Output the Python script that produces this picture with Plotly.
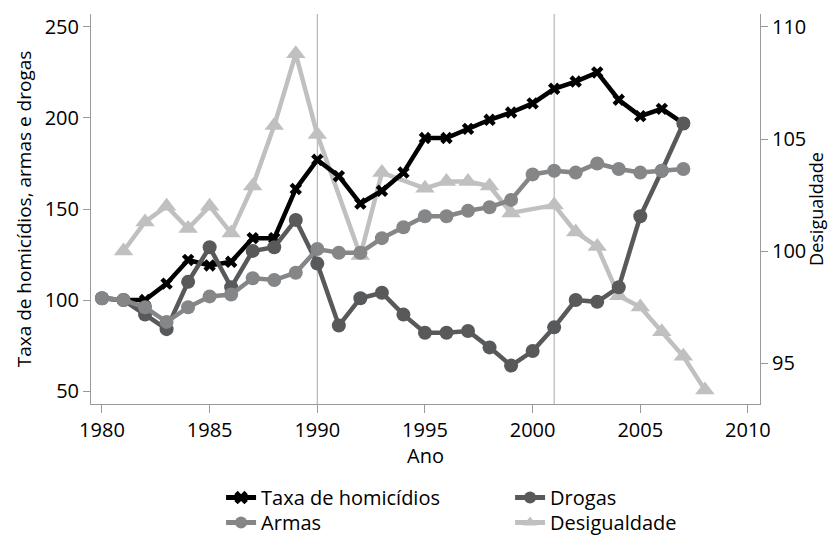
import plotly.graph_objects as go

years = list(range(1980, 2008))
taxa = [101, 100, 100, 109, 122, 119, 121, 134, 134, 161, 177, 168, 153, 160, 170,
        189, 189, 194, 199, 203, 208, 216, 220, 225, 210, 201, 205, 197]
drogas = [101, 100, 92, 84, 110, 129, 107, 127, 129, 144, 120, 86, 101, 104, 92,
          82, 82, 83, 74, 64, 72, 85, 100, 99, 107, 146, 171, 197]
armas = [101, 100, 96, 88, 96, 102, 103, 112, 111, 115, 128, 126, 126, 134, 140,
         146, 146, 149, 151, 155, 169, 171, 170, 175, 172, 170, 171, 172]
desig_years = [1981, 1982, 1983, 1984, 1985, 1986, 1987, 1988, 1989, 1990, 1992, 1993,
               1995, 1996, 1997, 1998, 1999, 2001, 2002, 2003, 2004, 2005, 2006, 2007, 2008]
desig = [100.0, 101.3, 102.0, 101.0, 102.0, 100.8, 102.9, 105.6, 108.8, 105.2, 99.8, 103.5,
         102.8, 103.1, 103.1, 102.9, 101.7, 102.05, 100.85, 100.2, 98.0, 97.5, 96.4, 95.3, 93.8]

x_ticks = [1980, 1985, 1990, 1995, 2000, 2005, 2010]
left_ticks = [50, 100, 150, 200, 250]
right_ticks = [95, 100, 105, 110]
vlines = [1990, 2001]

FONT = "Open Sans"
FS = 20
AX = "#9a9a9a"

fig = go.Figure()

fig.add_trace(go.Scatter(
    x=desig_years, y=desig, name="Desigualdade", yaxis="y", mode="lines+markers",
    line=dict(color="#c0c0c0", width=4.5),
    marker=dict(symbol="triangle-up", size=17, color="#c0c0c0"),
    legend="legend2", legendrank=2))
fig.add_trace(go.Scatter(
    x=years, y=taxa, name="Taxa de homicídios", yaxis="y2", mode="lines+markers",
    line=dict(color="#000000", width=4.5),
    marker=dict(symbol="x", size=11, color="#000000"),
    legend="legend", legendrank=1))
fig.add_trace(go.Scatter(
    x=years, y=drogas, name="Drogas", yaxis="y2", mode="lines+markers",
    line=dict(color="#58595b", width=4.5),
    marker=dict(symbol="circle", size=14, color="#58595b"),
    legend="legend", legendrank=2))
fig.add_trace(go.Scatter(
    x=years, y=armas, name="Armas", yaxis="y2", mode="lines+markers",
    line=dict(color="#858688", width=4.5),
    marker=dict(symbol="circle", size=14, color="#858688"),
    legend="legend2", legendrank=1))

for v in vlines:
    fig.add_shape(type="line", xref="x", yref="paper", x0=v, x1=v, y0=0, y1=1,
                  line=dict(color="#a8a8a8", width=1), layer="below")

fig.add_annotation(text="Ano", xref="paper", yref="paper", x=0.5, y=-0.131,
                   xanchor="center", yanchor="middle", showarrow=False,
                   font=dict(family=FONT, size=FS))

leg_common = dict(orientation="h", xref="container", yref="container",
                  x=0.267, xanchor="left", yanchor="top", entrywidth=244,
                  traceorder="normal", font=dict(family=FONT, size=FS),
                  itemsizing="constant", tracegroupgap=0, bgcolor="rgba(0,0,0,0)")

fig.update_layout(
    width=828, height=535,
    margin=dict(l=91, r=68, t=14, b=131),
    paper_bgcolor="white", plot_bgcolor="white",
    font=dict(family=FONT, size=FS, color="#000000"),
    showlegend=True,
    legend=dict(y=0.1065, **leg_common),
    legend2=dict(y=0.0598, **leg_common),
    xaxis=dict(range=[1979.49, 2010.56], tickvals=x_ticks, showgrid=False, zeroline=False,
               automargin=False,
               showline=True, linecolor=AX, linewidth=1, ticks="outside", ticklen=8,
               tickcolor=AX, tickfont=dict(family=FONT, size=FS)),
    yaxis=dict(range=[93.17, 110.58], tickvals=right_ticks, side="right", showgrid=False,
               automargin=False,
               zeroline=False, showline=True, linecolor=AX, linewidth=1, ticks="outside",
               ticklen=7, tickcolor=AX, tickfont=dict(family=FONT, size=FS),
               title=dict(text="Desigualdade", standoff=4, font=dict(size=18))),
    yaxis2=dict(range=[42.9, 257.1], tickvals=left_ticks, side="left", overlaying="y",
                automargin=False,
                showgrid=False, zeroline=False, showline=True, linecolor=AX, linewidth=1,
                ticks="outside", ticklen=7, tickcolor=AX, tickfont=dict(family=FONT, size=FS),
                title=dict(text="Taxa de homicídios, armas e drogas", standoff=8,
                           font=dict(size=19))),
)

fig.write_html("out.html", config={"displayModeBar": False},
               post_script="document.body.style.margin='0';")
